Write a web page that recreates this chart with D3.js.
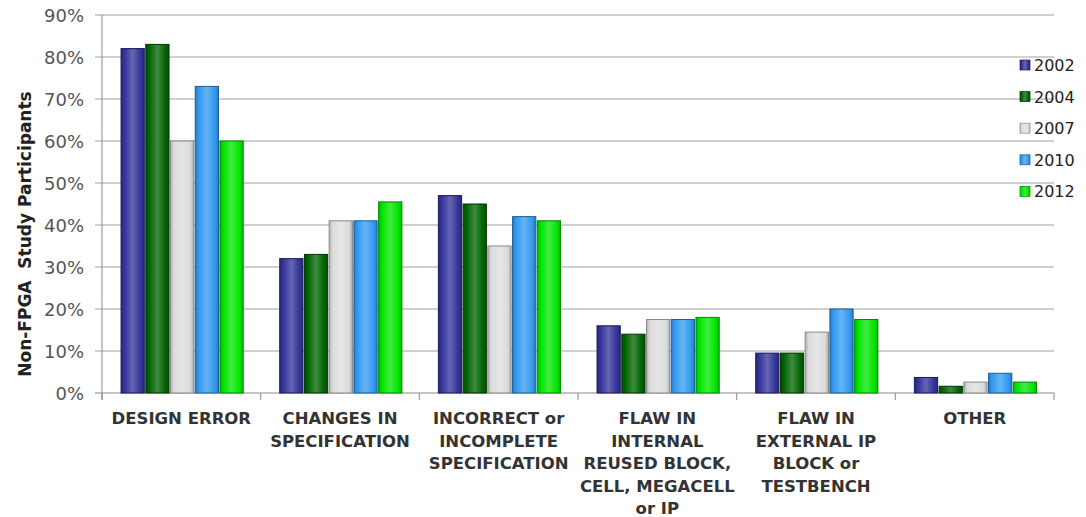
<!DOCTYPE html>
<html lang="en">
<head>
<meta charset="utf-8">
<title>Non-FPGA bug causes</title>
<script src="https://cdn.jsdelivr.net/npm/d3@7"></script>
<style>
  body { margin: 0; background: #fff; }
  svg { display: block; font-family: "DejaVu Sans", Verdana, sans-serif; }
</style>
</head>
<body>
<script>
// data
const categories = [
  ["DESIGN ERROR"],
  ["CHANGES IN", "SPECIFICATION"],
  ["INCORRECT or", "INCOMPLETE", "SPECIFICATION"],
  ["FLAW IN", "INTERNAL", "REUSED BLOCK,", "CELL, MEGACELL", "or IP"],
  ["FLAW IN", "EXTERNAL IP", "BLOCK or", "TESTBENCH"],
  ["OTHER"]
];
const years = ["2002", "2004", "2007", "2010", "2012"];
const values2002 = [82, 32, 47, 16, 9.5, 3.7];
const values2004 = [83, 33, 45, 14, 9.5, 1.6];
const values2007 = [60, 41, 35, 17.5, 14.5, 2.6];
const values2010 = [73, 41, 42, 17.5, 20, 4.7];
const values2012 = [60, 45.5, 41, 18, 17.5, 2.6];
const yTicks = [0, 10, 20, 30, 40, 50, 60, 70, 80, 90];
const colors = ["#33339a", "#006400", "#dcdcdc", "#3399f0", "#00e600"];
const edges = ["#1a1a5e", "#003300", "#8a8a8a", "#1a5f99", "#008a00"];

const series = [values2002, values2004, values2007, values2010, values2012];

let w = 1086, h = 517;
let plotLeft = 102, plotRight = 1054, plotTop = 15, plotBottom = 393;

let svg = d3.select("body").append("svg").attr("width", w).attr("height", h);

let defs = svg.append("defs");
colors.forEach((c, i) => {
  let g = defs.append("linearGradient").attr("id", "g" + i)
    .attr("x1", "0%").attr("x2", "100%").attr("y1", "0%").attr("y2", "0%");
  let lighter = d3.interpolateRgb(c, "#ffffff")(0.25);
  let darker = d3.interpolateRgb(c, "#000000")(0.2);
  g.append("stop").attr("offset", "0%").attr("stop-color", darker);
  g.append("stop").attr("offset", "15%").attr("stop-color", c);
  g.append("stop").attr("offset", "50%").attr("stop-color", lighter);
  g.append("stop").attr("offset", "85%").attr("stop-color", c);
  g.append("stop").attr("offset", "100%").attr("stop-color", darker);
});

let xScale = d3.scaleBand().domain(d3.range(categories.length)).range([plotLeft, plotRight]);
let bw = xScale.bandwidth();
let xInner = d3.scaleBand().domain(years).range([bw * 0.12, bw * 0.89]).paddingInner(0.06);
let yScale = d3.scaleLinear().domain([0, 90]).range([plotBottom, plotTop]);

// gridlines
svg.append("g").selectAll("line").data(yTicks).enter().append("line")
  .attr("x1", plotLeft - 7).attr("x2", plotRight)
  .attr("y1", d => yScale(d)).attr("y2", d => yScale(d))
  .attr("stroke", d => d === 0 ? "#888" : "#a0a0a0")
  .attr("stroke-width", 1);

// left axis line
svg.append("line").attr("x1", plotLeft).attr("x2", plotLeft)
  .attr("y1", plotTop).attr("y2", plotBottom + 7)
  .attr("stroke", "#888");

// category ticks
svg.append("g").selectAll("line").data(d3.range(categories.length + 1)).enter().append("line")
  .attr("x1", d => plotLeft + d * bw).attr("x2", d => plotLeft + d * bw)
  .attr("y1", plotBottom).attr("y2", plotBottom + 7)
  .attr("stroke", "#888");

// y tick labels
svg.append("g").selectAll("text").data(yTicks).enter().append("text")
  .attr("x", plotLeft - 18).attr("y", d => yScale(d) + 6.5)
  .attr("text-anchor", "end").attr("font-size", "18px").attr("fill", "#555")
  .text(d => d + "%");

// bars
series.forEach((vals, si) => {
  svg.append("g").selectAll("rect").data(vals).enter().append("rect")
    .attr("x", (d, i) => xScale(i) + xInner(years[si]))
    .attr("y", d => yScale(d))
    .attr("width", xInner.bandwidth())
    .attr("height", d => plotBottom - yScale(d))
    .attr("fill", "url(#g" + si + ")")
    .attr("stroke", edges[si])
    .attr("stroke-width", 1);
});

// category labels
categories.forEach((lines, i) => {
  let t = svg.append("text")
    .attr("x", xScale(i) + bw / 2).attr("y", 424)
    .attr("text-anchor", "middle").attr("font-size", "16.5px")
    .attr("font-weight", "bold").attr("fill", "#333");
  lines.forEach((l, j) => {
    t.append("tspan").attr("x", xScale(i) + bw / 2).attr("dy", j === 0 ? 0 : 22.5).text(l);
  });
});

// y axis title
svg.append("text")
  .attr("transform", "translate(31,234) rotate(-90)")
  .attr("text-anchor", "middle").attr("font-size", "17px")
  .attr("font-weight", "bold").attr("fill", "#222")
  .attr("xml:space", "preserve")
  .text("Non-FPGA  Study Participants");

// legend
let legend = svg.append("g").selectAll("g").data(years).enter().append("g")
  .attr("transform", (d, i) => "translate(1020," + (65 + i * 31.6) + ")");
legend.append("rect").attr("x", 0).attr("y", -5).attr("width", 10).attr("height", 10)
  .attr("fill", (d, i) => "url(#g" + i + ")")
  .attr("stroke", (d, i) => edges[i]).attr("stroke-width", 0.7);
legend.append("text").attr("x", 14).attr("y", 6)
  .attr("font-size", "16px").attr("fill", "#222")
  .text(d => d);
</script>
</body>
</html>
